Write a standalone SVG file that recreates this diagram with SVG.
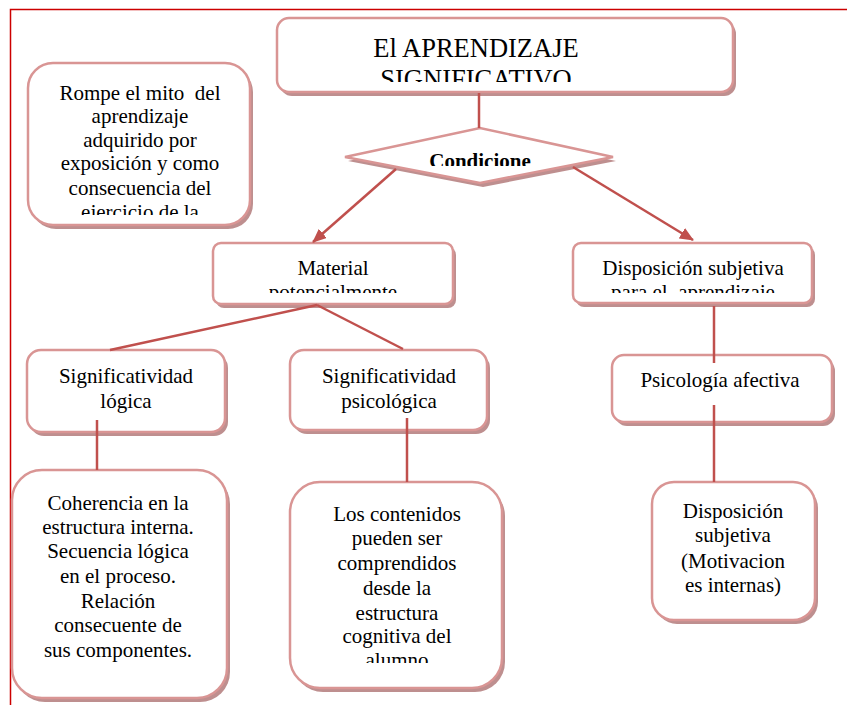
<svg xmlns="http://www.w3.org/2000/svg" width="847" height="705" viewBox="0 0 847 705">
<defs>
<style>
.sh{fill:#a86a6a;opacity:0.75}
.bx{fill:#ffffff;stroke:#d99594;stroke-width:2.5}
.t{font-family:"Liberation Serif","Times New Roman",serif;font-size:21px;fill:#000;text-anchor:middle}
.c{stroke:#c0504d;stroke-width:2.5;fill:none}
.frame{stroke:#cc0000;stroke-width:1.5;fill:none}
</style>
<marker id="ah" markerUnits="userSpaceOnUse" markerWidth="14" markerHeight="12" refX="13" refY="6" orient="auto">
<path d="M0,0 L14,6 L0,12 Z" fill="#c0504d"/>
</marker>
<clipPath id="cpTitle"><rect x="277" y="18" width="456" height="64"/></clipPath>
<clipPath id="cpCond"><rect x="345" y="128" width="268" height="38"/></clipPath>
<clipPath id="cpRompe"><rect x="28" y="63" width="222" height="152"/></clipPath>
<clipPath id="cpMat"><rect x="213" y="243" width="240" height="50"/></clipPath>
<clipPath id="cpDisp"><rect x="573" y="243" width="239" height="50"/></clipPath>
<clipPath id="cpLos"><rect x="290" y="482" width="212" height="181"/></clipPath>
</defs>

<g id="frame">
<path class="frame" d="M847,9.5 L10.5,9.5 L10.5,705"/>
</g>

<g id="node-title">
<rect class="sh" x="280" y="22" width="456" height="74" rx="12"/>
<rect class="bx" x="277" y="18" width="456" height="74" rx="12"/>
<g clip-path="url(#cpTitle)">
<text class="t" style="font-size:26.5px" x="476" y="57">El APRENDIZAJE</text>
<text class="t" style="font-size:26.5px" x="476" y="88">SIGNIFICATIVO</text>
</g>
</g>

<g id="node-condiciones">
<polygon class="sh" points="348,161 483,132 616,161 483,187"/>
<polygon class="bx" points="345,157 480,128 613,157 480,183"/>
<g clip-path="url(#cpCond)">
<text class="t" style="font-weight:bold" x="480" y="168">Condicione</text>
</g>
</g>

<g id="node-rompe">
<rect class="sh" x="31" y="67" width="222" height="162" rx="25"/>
<rect class="bx" x="28" y="63" width="222" height="162" rx="25"/>
<g clip-path="url(#cpRompe)">
<text class="t" x="140" y="100">Rompe el mito&#160; del</text>
<text class="t" x="140" y="123">aprendizaje</text>
<text class="t" x="140" y="147">adquirido por</text>
<text class="t" x="140" y="170">exposición y como</text>
<text class="t" x="140" y="195">consecuencia del</text>
<text class="t" x="140" y="219">ejercicio de la</text>
</g>
</g>

<g id="node-material">
<rect class="sh" x="216" y="247" width="240" height="61" rx="8"/>
<rect class="bx" x="213" y="243" width="240" height="61" rx="8"/>
<g clip-path="url(#cpMat)">
<text class="t" x="333" y="275">Material</text>
<text class="t" x="333" y="299">potencialmente</text>
</g>
</g>

<g id="node-disposicion">
<rect class="sh" x="576" y="247" width="239" height="60" rx="8"/>
<rect class="bx" x="573" y="243" width="239" height="60" rx="8"/>
<g clip-path="url(#cpDisp)">
<text class="t" x="693" y="275">Disposición subjetiva</text>
<text class="t" x="693" y="299">para el&#160; aprendizaje</text>
</g>
</g>

<g id="node-sig-logica">
<rect class="sh" x="30" y="354" width="198" height="82" rx="14"/>
<rect class="bx" x="27" y="350" width="198" height="82" rx="14"/>
<text class="t" x="126" y="383">Significatividad</text>
<text class="t" x="126" y="408">lógica</text>
</g>

<g id="node-sig-psicologica">
<rect class="sh" x="293" y="354" width="197" height="80" rx="14"/>
<rect class="bx" x="290" y="350" width="197" height="80" rx="14"/>
<text class="t" x="389" y="383">Significatividad</text>
<text class="t" x="389" y="408">psicológica</text>
</g>

<g id="node-psicologia-afectiva">
<rect class="sh" x="615" y="359" width="220" height="67" rx="12"/>
<rect class="bx" x="612" y="355" width="220" height="67" rx="12"/>
<text class="t" x="720" y="387">Psicología afectiva</text>
</g>

<g id="node-coherencia">
<rect class="sh" x="15" y="474" width="215" height="228" rx="30"/>
<rect class="bx" x="12" y="470" width="215" height="228" rx="30"/>
<text class="t" x="118" y="510">Coherencia en la</text>
<text class="t" x="118" y="534">estructura interna.</text>
<text class="t" x="118" y="558">Secuencia lógica</text>
<text class="t" x="118" y="583">en el proceso.</text>
<text class="t" x="118" y="608">Relación</text>
<text class="t" x="118" y="632">consecuente de</text>
<text class="t" x="118" y="657">sus componentes.</text>
</g>

<g id="node-contenidos">
<rect class="sh" x="293" y="486" width="212" height="206" rx="30"/>
<rect class="bx" x="290" y="482" width="212" height="206" rx="30"/>
<g clip-path="url(#cpLos)">
<text class="t" x="397" y="521">Los contenidos</text>
<text class="t" x="397" y="545">pueden ser</text>
<text class="t" x="397" y="570">comprendidos</text>
<text class="t" x="397" y="595">desde la</text>
<text class="t" x="397" y="620">estructura</text>
<text class="t" x="397" y="643">cognitiva del</text>
<text class="t" x="397" y="667">alumno</text>
</g>
</g>

<g id="node-motivaciones">
<rect class="sh" x="655" y="486" width="163" height="138" rx="22"/>
<rect class="bx" x="652" y="482" width="163" height="138" rx="22"/>
<text class="t" x="733" y="518">Disposición</text>
<text class="t" x="733" y="542">subjetiva</text>
<text class="t" x="733" y="568">(Motivacion</text>
<text class="t" x="733" y="592">es internas)</text>
</g>

<g id="connectors">
<line class="c" x1="479" y1="93" x2="479" y2="128"/>
<line class="c" x1="396" y1="169" x2="313" y2="242" marker-end="url(#ah)"/>
<line class="c" x1="573" y1="167" x2="693" y2="240" marker-end="url(#ah)"/>
<line class="c" x1="317" y1="305" x2="110" y2="350"/>
<line class="c" x1="317" y1="305" x2="403" y2="349"/>
<line class="c" x1="97" y1="420" x2="97" y2="470"/>
<line class="c" x1="407" y1="418" x2="407" y2="482"/>
<line class="c" x1="714" y1="306" x2="714" y2="363"/>
<line class="c" x1="714" y1="405" x2="714" y2="482"/>
</g>
</svg>
